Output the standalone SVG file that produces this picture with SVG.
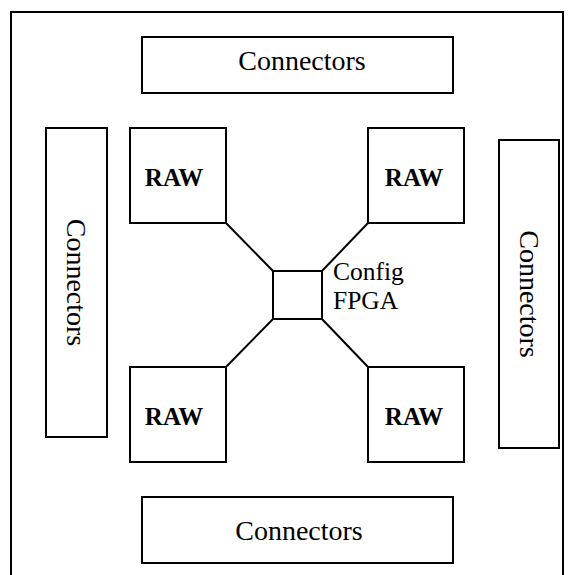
<svg xmlns="http://www.w3.org/2000/svg" width="573" height="575" viewBox="0 0 573 575">
<style>
.box{fill:#fff;stroke:#000;stroke-width:2}
.lbl{font-family:"Liberation Serif","Times New Roman",serif;font-size:28px;fill:#000;text-anchor:middle}
.raw{font-weight:bold;font-size:25px}
.cfg{text-anchor:start;font-size:25.5px}
.wire{stroke:#000;stroke-width:2;fill:none}
</style>
<rect width="573" height="575" fill="#fff"/>
<path id="frame" d="M11,580 V12 H563 V580" fill="none" stroke="#000" stroke-width="2"/>
<g id="connectors">
<line class="wire" x1="226" y1="223" x2="273" y2="271"/>
<line class="wire" x1="368" y1="223" x2="322" y2="271"/>
<line class="wire" x1="226" y1="367" x2="273" y2="319"/>
<line class="wire" x1="368" y1="367" x2="322" y2="319"/>
</g>
<g id="conn-top"><rect class="box" x="142" y="37" width="311" height="56"/><text class="lbl" x="302" y="70">Connectors</text></g>
<g id="conn-bottom"><rect class="box" x="142" y="497" width="311" height="66"/><text class="lbl" x="299" y="540">Connectors</text></g>
<g id="conn-left"><rect class="box" x="46" y="128" width="61" height="309"/><text class="lbl" transform="translate(76.5,282.5) rotate(90)" x="0" y="9.5">Connectors</text></g>
<g id="conn-right"><rect class="box" x="499" y="140" width="60" height="308"/><text class="lbl" transform="translate(529,294) rotate(90)" x="0" y="9.5">Connectors</text></g>
<g id="raw-tl"><rect class="box" x="130" y="128" width="96" height="95"/><text class="lbl raw" x="174" y="186">RAW</text></g>
<g id="raw-tr"><rect class="box" x="368" y="128" width="96" height="95"/><text class="lbl raw" x="414" y="186">RAW</text></g>
<g id="raw-bl"><rect class="box" x="130" y="367" width="96" height="95"/><text class="lbl raw" x="174" y="425">RAW</text></g>
<g id="raw-br"><rect class="box" x="368" y="367" width="96" height="95"/><text class="lbl raw" x="414" y="425">RAW</text></g>
<g id="config-fpga"><rect class="box" x="273" y="271" width="49" height="48"/>
<text class="lbl cfg" x="333" y="280">Config</text>
<text class="lbl cfg" x="333" y="309">FPGA</text></g>
</svg>
